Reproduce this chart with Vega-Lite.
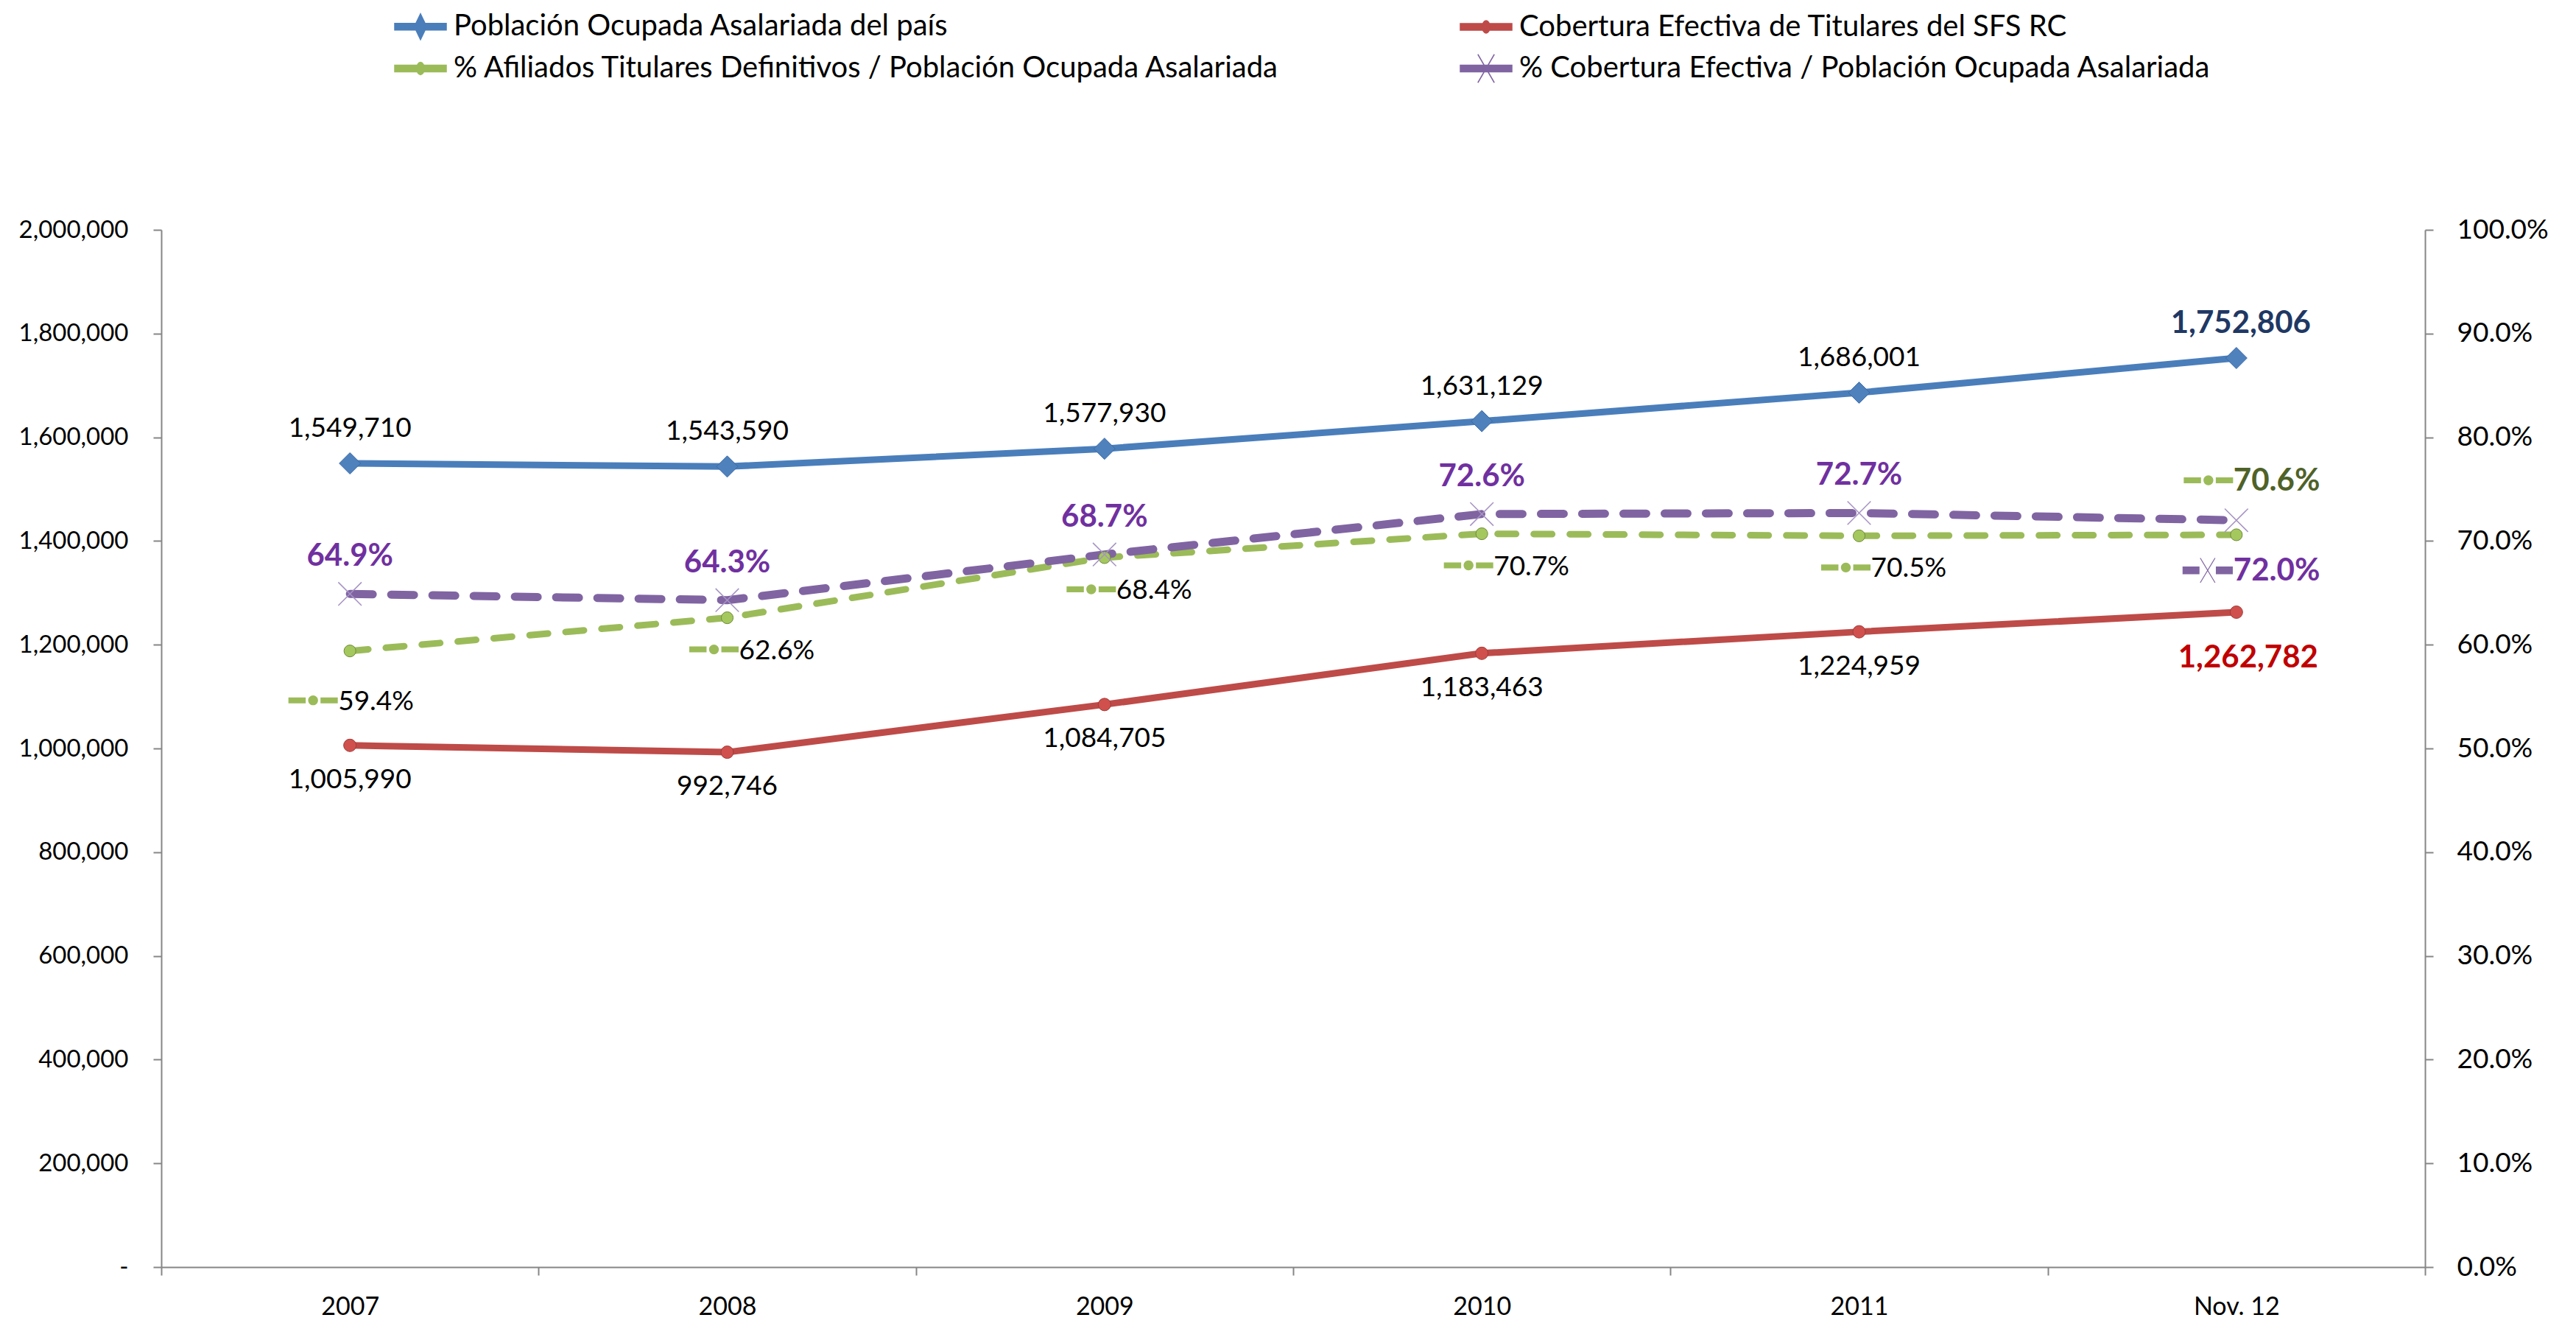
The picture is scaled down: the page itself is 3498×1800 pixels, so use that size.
{
  "$schema": "https://vega.github.io/schema/vega-lite/v6.json",
  "width": 3074,
  "height": 1408,
  "autosize": {"type": "none"},
  "padding": {"left": 219, "top": 312, "right": 205, "bottom": 80},
  "background": "white",
  "config": {
    "font": "Lato",
    "view": {"stroke": null},
    "axis": {"grid": false, "domainColor": "#868686", "tickColor": "#868686", "domainWidth": 2, "tickWidth": 2, "tickSize": 11, "labelColor": "black", "title": null}
  },
  "datasets": {
    "abs": [
      {"periodo": "2007", "serie": "Población Ocupada Asalariada del país", "valor": 1549710},
      {"periodo": "2008", "serie": "Población Ocupada Asalariada del país", "valor": 1543590},
      {"periodo": "2009", "serie": "Población Ocupada Asalariada del país", "valor": 1577930},
      {"periodo": "2010", "serie": "Población Ocupada Asalariada del país", "valor": 1631129},
      {"periodo": "2011", "serie": "Población Ocupada Asalariada del país", "valor": 1686001},
      {"periodo": "Nov. 12", "serie": "Población Ocupada Asalariada del país", "valor": 1752806},
      {"periodo": "2007", "serie": "Cobertura Efectiva de Titulares del SFS RC", "valor": 1005990},
      {"periodo": "2008", "serie": "Cobertura Efectiva de Titulares del SFS RC", "valor": 992746},
      {"periodo": "2009", "serie": "Cobertura Efectiva de Titulares del SFS RC", "valor": 1084705},
      {"periodo": "2010", "serie": "Cobertura Efectiva de Titulares del SFS RC", "valor": 1183463},
      {"periodo": "2011", "serie": "Cobertura Efectiva de Titulares del SFS RC", "valor": 1224959},
      {"periodo": "Nov. 12", "serie": "Cobertura Efectiva de Titulares del SFS RC", "valor": 1262782}
    ],
    "pct": [
      {"periodo": "2007", "serie": "% Afiliados Titulares Definitivos / Población Ocupada Asalariada", "valor": 0.594},
      {"periodo": "2008", "serie": "% Afiliados Titulares Definitivos / Población Ocupada Asalariada", "valor": 0.626},
      {"periodo": "2009", "serie": "% Afiliados Titulares Definitivos / Población Ocupada Asalariada", "valor": 0.684},
      {"periodo": "2010", "serie": "% Afiliados Titulares Definitivos / Población Ocupada Asalariada", "valor": 0.707},
      {"periodo": "2011", "serie": "% Afiliados Titulares Definitivos / Población Ocupada Asalariada", "valor": 0.705},
      {"periodo": "Nov. 12", "serie": "% Afiliados Titulares Definitivos / Población Ocupada Asalariada", "valor": 0.706},
      {"periodo": "2007", "serie": "% Cobertura Efectiva / Población Ocupada Asalariada", "valor": 0.649},
      {"periodo": "2008", "serie": "% Cobertura Efectiva / Población Ocupada Asalariada", "valor": 0.643},
      {"periodo": "2009", "serie": "% Cobertura Efectiva / Población Ocupada Asalariada", "valor": 0.687},
      {"periodo": "2010", "serie": "% Cobertura Efectiva / Población Ocupada Asalariada", "valor": 0.726},
      {"periodo": "2011", "serie": "% Cobertura Efectiva / Población Ocupada Asalariada", "valor": 0.727},
      {"periodo": "Nov. 12", "serie": "% Cobertura Efectiva / Población Ocupada Asalariada", "valor": 0.720}
    ]
  },
  "encoding": {
    "x": {
      "field": "periodo", "type": "nominal",
      "sort": ["2007", "2008", "2009", "2010", "2011", "Nov. 12"],
      "scale": {"type": "band", "paddingInner": 0, "paddingOuter": 0},
      "axis": {"orient": "bottom", "tickBand": "extent", "labelAngle": 0, "labelFontSize": 34, "labelPadding": 26}
    }
  },
  "layer": [
    {
      "data": {"name": "abs"},
      "encoding": {
        "y": {
          "field": "valor", "type": "quantitative",
          "scale": {"domain": [0, 2000000], "nice": false, "zero": true},
          "axis": {"orient": "left", "values": [0, 200000, 400000, 600000, 800000, 1000000, 1200000, 1400000, 1600000, 1800000, 2000000], "labelExpr": "datum.value === 0 ? '-' : format(datum.value, ',')", "labelFontSize": 33, "labelPadding": 34}
        }
      },
      "layer": [
        {
          "mark": {"type": "line", "strokeWidth": 9},
          "encoding": {
            "color": {
              "field": "serie", "type": "nominal",
              "scale": {
                "domain": ["Población Ocupada Asalariada del país", "% Afiliados Titulares Definitivos / Población Ocupada Asalariada", "Cobertura Efectiva de Titulares del SFS RC", "% Cobertura Efectiva / Población Ocupada Asalariada"],
                "range": ["#4A7EBB", "#9BBB59", "#BE4B48", "#8064A2"]
              },
              "legend": {
                "orient": "none", "legendX": 316, "legendY": -312, "columns": 2, "columnPadding": 241, "rowPadding": 0,
                "title": null, "labelFontSize": 40, "labelColor": "black", "labelOffset": 9, "labelLimit": 0, "symbolSize": 4900, "padding": 0,
                "encode": {
                  "symbols": {
                    "update": {
                      "shape": {"signal": "datum.index === 0 ? 'M-1,-0.13L1,-0.13L1,0.13L-1,0.13Z M0,-0.5L0.24,0L0,0.5L-0.24,0Z' : datum.index === 3 ? 'M-1,-0.13L1,-0.13L1,0.13L-1,0.13Z M-0.32,-0.55L0.32,0.55M-0.32,0.55L0.32,-0.55' : 'M-1,-0.13L1,-0.13L1,0.13L-1,0.13Z M-0.15,0A0.15,0.24 0 1,1 0.15,0A0.15,0.24 0 1,1 -0.15,0Z'"},
                      "fill": {"scale": "color", "field": "value"},
                      "stroke": {"scale": "color", "field": "value"},
                      "strokeWidth": {"value": 1.5},
                      "strokeDash": {"value": []},
                      "opacity": {"value": 1},
                      "fillOpacity": {"value": 1}
                    }
                  }
                }
              }
            }
          }
        },
        {
          "transform": [{"filter": "datum.serie === 'Población Ocupada Asalariada del país'"}],
          "mark": {"type": "point", "shape": "diamond", "filled": true, "size": 841, "color": "#4F81BD", "opacity": 1, "stroke": "#3A6AA6", "strokeWidth": 1}
        },
        {
          "transform": [{"filter": "datum.serie === 'Cobertura Efectiva de Titulares del SFS RC'"}],
          "mark": {"type": "point", "shape": "circle", "filled": true, "size": 290, "color": "#D0504D", "opacity": 1, "stroke": "#A03B38", "strokeWidth": 1}
        },
        {
          "transform": [{"filter": "datum.serie === 'Población Ocupada Asalariada del país' && datum.periodo !== 'Nov. 12'"}],
          "mark": {"type": "text", "dy": -47, "fontSize": 37, "color": "black"},
          "encoding": {"text": {"field": "valor", "type": "quantitative", "format": ","}}
        },
        {
          "transform": [{"filter": "datum.serie === 'Población Ocupada Asalariada del país' && datum.periodo === 'Nov. 12'"}],
          "mark": {"type": "text", "dy": -47, "dx": 6, "fontSize": 42, "fontWeight": "bold", "color": "#1F3864"},
          "encoding": {"text": {"field": "valor", "type": "quantitative", "format": ","}}
        },
        {
          "transform": [{"filter": "datum.serie === 'Cobertura Efectiva de Titulares del SFS RC' && datum.periodo !== 'Nov. 12'"}],
          "mark": {"type": "text", "dy": 47, "fontSize": 37, "color": "black"},
          "encoding": {"text": {"field": "valor", "type": "quantitative", "format": ","}}
        },
        {
          "transform": [{"filter": "datum.serie === 'Cobertura Efectiva de Titulares del SFS RC' && datum.periodo === 'Nov. 12'"}],
          "mark": {"type": "text", "dy": 62, "dx": 16, "fontSize": 42, "fontWeight": "bold", "color": "#C00000"},
          "encoding": {"text": {"field": "valor", "type": "quantitative", "format": ","}}
        }
      ]
    },
    {
      "data": {"name": "pct"},
      "encoding": {
        "y": {
          "field": "valor", "type": "quantitative",
          "scale": {"domain": [0, 1], "nice": false, "zero": true},
          "axis": {"orient": "right", "values": [0, 0.1, 0.2, 0.3, 0.4, 0.5, 0.6, 0.7, 0.8, 0.9, 1], "format": ".1%", "labelFontSize": 37, "labelPadding": 32}
        }
      },
      "layer": [
        {
          "transform": [{"filter": "datum.serie === '% Afiliados Titulares Definitivos / Población Ocupada Asalariada'"}],
          "mark": {"type": "line", "strokeWidth": 9, "strokeDash": [25, 24], "strokeCap": "round"},
          "encoding": {"color": {"field": "serie", "type": "nominal"}}
        },
        {
          "transform": [{"filter": "datum.serie === '% Cobertura Efectiva / Población Ocupada Asalariada'"}],
          "mark": {"type": "line", "strokeWidth": 11, "strokeDash": [31, 25], "strokeCap": "round"},
          "encoding": {"color": {"field": "serie", "type": "nominal"}}
        },
        {
          "transform": [{"filter": "datum.serie === '% Afiliados Titulares Definitivos / Población Ocupada Asalariada'"}],
          "mark": {"type": "point", "shape": "circle", "filled": true, "size": 260, "color": "#A5C85E", "opacity": 1, "stroke": "#6E8A38", "strokeWidth": 1}
        },
        {
          "transform": [{"filter": "datum.serie === '% Cobertura Efectiva / Población Ocupada Asalariada'"}],
          "mark": {"type": "point", "shape": "M-1,-1L1,1M-1,1L1,-1", "filled": false, "size": 1000, "color": "#A693C4", "opacity": 1, "strokeWidth": 1.5}
        },
        {
          "transform": [{"filter": "datum.serie === '% Cobertura Efectiva / Población Ocupada Asalariada' && datum.periodo !== 'Nov. 12'"}],
          "mark": {"type": "text", "dy": -51, "fontSize": 42, "fontWeight": "bold", "color": "#7030A0"},
          "encoding": {"text": {"field": "valor", "type": "quantitative", "format": ".1%"}}
        },
        {
          "transform": [{"filter": "datum.serie === '% Cobertura Efectiva / Población Ocupada Asalariada' && datum.periodo === 'Nov. 12'"}],
          "mark": {"type": "text", "align": "left", "dx": -4, "dy": 69, "fontSize": 42, "fontWeight": "bold", "color": "#7030A0"},
          "encoding": {"text": {"field": "valor", "type": "quantitative", "format": ".1%"}}
        },
        {
          "transform": [{"filter": "datum.serie === '% Cobertura Efectiva / Población Ocupada Asalariada' && datum.periodo === 'Nov. 12'"}],
          "mark": {"type": "point", "shape": "M-1,-0.14L-0.35,-0.14L-0.35,0.14L-1,0.14Z M0.35,-0.14L1,-0.14L1,0.14L0.35,0.14Z M-0.3,-0.5L0.3,0.5M-0.3,0.5L0.3,-0.5", "filled": true, "size": 4489, "color": "#8064A2", "stroke": "#8064A2", "strokeWidth": 1.2, "opacity": 1, "xOffset": -39, "yOffset": 68}
        },
        {
          "transform": [{"filter": "datum.serie === '% Afiliados Titulares Definitivos / Población Ocupada Asalariada' && datum.periodo !== 'Nov. 12' && datum.periodo !== '2007'"}],
          "mark": {"type": "text", "align": "left", "dx": 16, "dy": 45, "fontSize": 37, "color": "black"},
          "encoding": {"text": {"field": "valor", "type": "quantitative", "format": ".1%"}}
        },
        {
          "transform": [{"filter": "datum.serie === '% Afiliados Titulares Definitivos / Población Ocupada Asalariada' && datum.periodo !== 'Nov. 12' && datum.periodo !== '2007'"}],
          "mark": {"type": "point", "shape": "M-1,-0.12L-0.3,-0.12L-0.3,0.12L-1,0.12Z M0.3,-0.12L1,-0.12L1,0.12L0.3,0.12Z M-0.2,0A0.2,0.2 0 1,1 0.2,0A0.2,0.2 0 1,1 -0.2,0Z", "filled": true, "size": 4489, "color": "#9BBB59", "opacity": 1, "xOffset": -18, "yOffset": 43}
        },
        {
          "transform": [{"filter": "datum.serie === '% Afiliados Titulares Definitivos / Población Ocupada Asalariada' && datum.periodo === '2007'"}],
          "mark": {"type": "text", "align": "left", "dx": -16, "dy": 69, "fontSize": 37, "color": "black"},
          "encoding": {"text": {"field": "valor", "type": "quantitative", "format": ".1%"}}
        },
        {
          "transform": [{"filter": "datum.serie === '% Afiliados Titulares Definitivos / Población Ocupada Asalariada' && datum.periodo === '2007'"}],
          "mark": {"type": "point", "shape": "M-1,-0.12L-0.3,-0.12L-0.3,0.12L-1,0.12Z M0.3,-0.12L1,-0.12L1,0.12L0.3,0.12Z M-0.2,0A0.2,0.2 0 1,1 0.2,0A0.2,0.2 0 1,1 -0.2,0Z", "filled": true, "size": 4489, "color": "#9BBB59", "opacity": 1, "xOffset": -50, "yOffset": 67}
        },
        {
          "transform": [{"filter": "datum.serie === '% Afiliados Titulares Definitivos / Población Ocupada Asalariada' && datum.periodo === 'Nov. 12'"}],
          "mark": {"type": "text", "align": "left", "dx": -4, "dy": -73, "fontSize": 42, "fontWeight": "bold", "color": "#4F6228"},
          "encoding": {"text": {"field": "valor", "type": "quantitative", "format": ".1%"}}
        },
        {
          "transform": [{"filter": "datum.serie === '% Afiliados Titulares Definitivos / Población Ocupada Asalariada' && datum.periodo === 'Nov. 12'"}],
          "mark": {"type": "point", "shape": "M-1,-0.12L-0.3,-0.12L-0.3,0.12L-1,0.12Z M0.3,-0.12L1,-0.12L1,0.12L0.3,0.12Z M-0.2,0A0.2,0.2 0 1,1 0.2,0A0.2,0.2 0 1,1 -0.2,0Z", "filled": true, "size": 4489, "color": "#9BBB59", "opacity": 1, "xOffset": -38, "yOffset": -74}
        }
      ]
    }
  ],
  "resolve": {"scale": {"y": "independent"}}
}
